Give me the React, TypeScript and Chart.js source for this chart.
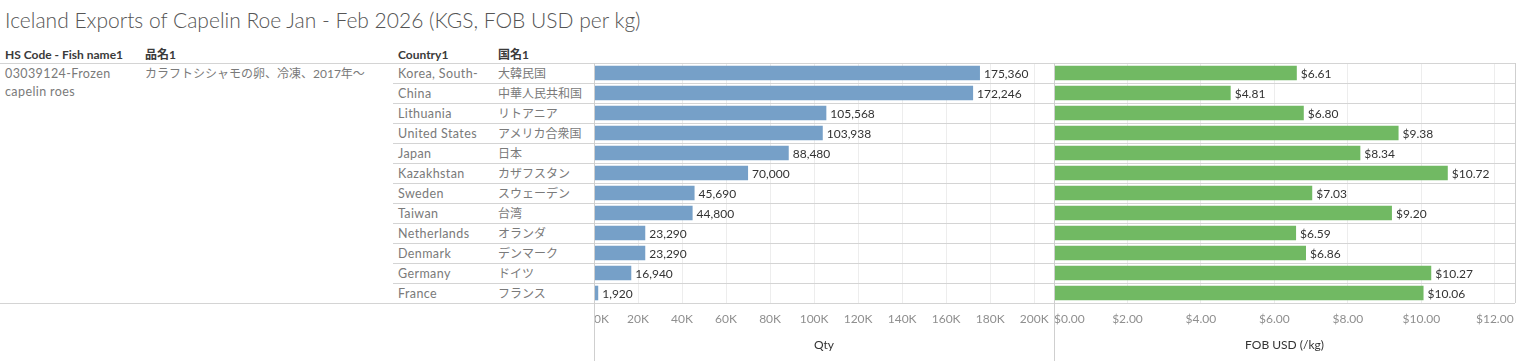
import React, { useEffect, useRef } from 'react';
import { Chart, registerables } from 'chart.js';

Chart.register(...registerables);

const TITLE = 'Iceland Exports of Capelin Roe Jan - Feb 2026 (KGS, FOB USD per kg)';
const HEADERS = ['HS Code - Fish name1', '品名1', 'Country1', '国名1'];
const HS_CODE = '03039124-Frozen capelin roes';
const PRODUCT_JA = 'カラフトシシャモの卵、冷凍、2017年〜';

const COUNTRIES = [
  'Korea, South-', 'China', 'Lithuania', 'United States', 'Japan', 'Kazakhstan',
  'Sweden', 'Taiwan', 'Netherlands', 'Denmark', 'Germany', 'France',
];
const COUNTRIES_JA = [
  '大韓民国', '中華人民共和国', 'リトアニア', 'アメリカ合衆国', '日本', 'カザフスタン',
  'スウェーデン', '台湾', 'オランダ', 'デンマーク', 'ドイツ', 'フランス',
];
const QTY = [175360, 172246, 105568, 103938, 88480, 70000, 45690, 44800, 23290, 23290, 16940, 1920];
const FOB = [6.61, 4.81, 6.8, 9.38, 8.34, 10.72, 7.03, 9.2, 6.59, 6.86, 10.27, 10.06];

const QTY_TICKS = [0, 20000, 40000, 60000, 80000, 100000, 120000, 140000, 160000, 180000, 200000];
const QTY_MAX = 209000;
const FOB_TICKS = [0, 2, 4, 6, 8, 10, 12];
const FOB_MAX = 12.55;

const BLUE = '#76a0c8';
const GREEN = '#71b963';
const FONT = 'Lato, "Noto Sans CJK JP", sans-serif';
const ROW_LINE = '#d4d4d4';
const GRID = '#ededed';

const valueLabels = (fmt: (v: number) => string) => ({
  id: 'valueLabels',
  afterDatasetsDraw(chart: any) {
    const ctx = chart.ctx;
    const meta = chart.getDatasetMeta(0);
    const data = chart.data.datasets[0].data as number[];
    ctx.save();
    ctx.font = `12px ${FONT}`;
    ctx.fillStyle = '#333333';
    ctx.textBaseline = 'middle';
    ctx.textAlign = 'left';
    meta.data.forEach((bar: any, i: number) => {
      ctx.fillText(fmt(data[i]), bar.x + 4, bar.y + 1);
    });
    ctx.restore();
  },
});

const paneEdge = {
  id: 'paneEdge',
  afterDraw(chart: any) {
    const { ctx, chartArea } = chart;
    const x = Math.round(chartArea.left) + 0.5;
    ctx.save();
    ctx.strokeStyle = '#cfcfcf';
    ctx.lineWidth = 1;
    ctx.beginPath();
    ctx.moveTo(x, chartArea.top);
    ctx.lineTo(x, chart.height);
    ctx.stroke();
    ctx.restore();
  },
};

function makeConfig(opts: {
  values: number[];
  color: string;
  ticks: number[];
  max: number;
  tickFmt: (v: number) => string;
  labelFmt: (v: number) => string;
  title: string;
  axisWidth: number;
  padRight: number;
  edgeColor: string;
}): any {
  return {
    type: 'bar',
    data: {
      labels: COUNTRIES,
      datasets: [
        {
          data: opts.values,
          backgroundColor: opts.color,
          barPercentage: 0.73,
          categoryPercentage: 1,
        },
      ],
    },
    options: {
      animation: false,
      responsive: false,
      maintainAspectRatio: false,
      indexAxis: 'y',
      layout: { padding: { top: 10, right: opts.padRight, left: 0, bottom: 0 } },
      plugins: { legend: { display: false }, tooltip: { enabled: false } },
      scales: {
        x: {
          type: 'linear',
          min: 0,
          max: opts.max,
          afterBuildTicks: (s: any) => {
            s.ticks = [...opts.ticks, opts.max].map((v) => ({ value: v }));
          },
          afterFit: (s: any) => {
            s.height = 58;
          },
          ticks: {
            autoSkip: false,
            maxRotation: 0,
            minRotation: 0,
            align: 'inner',
            padding: 0,
            color: '#8f8f8f',
            font: { family: FONT, size: 12 },
            callback: (v: number) => (opts.ticks.includes(v) ? opts.tickFmt(v) : ''),
          },
          grid: {
            drawTicks: true,
            tickLength: 9,
            tickColor: 'rgba(0,0,0,0)',
            color: (c: any) => (c.tick && c.tick.value === opts.max ? opts.edgeColor : GRID),
          },
          border: { display: false },
          title: {
            display: true,
            text: opts.title,
            color: '#333333',
            font: { family: FONT, size: 12 },
            padding: { top: 0, bottom: 9 },
          },
        },
        y: {
          type: 'category',
          offset: true,
          afterFit: (s: any) => {
            s.width = opts.axisWidth;
          },
          ticks: { display: false, padding: 0 },
          grid: {
            offset: true,
            drawTicks: opts.axisWidth > 0,
            tickLength: opts.axisWidth,
            color: ROW_LINE,
          },
          border: { display: false },
        },
      },
    },
    plugins: [valueLabels(opts.labelFmt), paneEdge],
  };
}

function ChartCanvas({ config, left, top, width, height }: any) {
  const ref = useRef<HTMLCanvasElement | null>(null);
  useEffect(() => {
    if (!ref.current) return;
    const chart = new Chart(ref.current, config);
    return () => chart.destroy();
  }, []);
  return (
    <canvas
      ref={ref}
      width={width}
      height={height}
      style={{ position: 'absolute', left, top, width, height }}
    />
  );
}

const ROW_H = 20;
const ROW0 = 63;

export default function App() {
  const qtyConfig = makeConfig({
    values: QTY,
    color: BLUE,
    ticks: QTY_TICKS,
    max: QTY_MAX,
    tickFmt: (v) => `${v / 1000}K`,
    labelFmt: (v) => v.toLocaleString('en-US'),
    title: 'Qty',
    axisWidth: 201,
    padRight: 0,
    edgeColor: 'rgba(0,0,0,0)',
  });
  const fobConfig = makeConfig({
    values: FOB,
    color: GREEN,
    ticks: FOB_TICKS,
    max: FOB_MAX,
    tickFmt: (v) => `$${v.toFixed(2)}`,
    labelFmt: (v) => `$${v.toFixed(2)}`,
    title: 'FOB USD (/kg)',
    axisWidth: 0,
    padRight: 2,
    edgeColor: '#cfcfcf',
  });

  const textBase: React.CSSProperties = {
    position: 'absolute',
    fontFamily: FONT,
    fontSize: 12.5,
    letterSpacing: '0.4px',
    whiteSpace: 'nowrap',
    lineHeight: `${ROW_H}px`,
  };
  const jaBase: React.CSSProperties = {
    ...textBase,
    fontSize: 12,
    letterSpacing: '0px',
  };

  return (
    <div
      style={{
        position: 'fixed',
        left: 0,
        top: 0,
        width: 1517,
        height: 361,
        background: '#ffffff',
        overflow: 'hidden',
      }}
    >
      <div
        style={{
          position: 'absolute',
          left: 5,
          top: 4,
          fontFamily: FONT,
          fontWeight: 300,
          fontSize: 21,
          lineHeight: '32px',
          color: '#555555',
          whiteSpace: 'nowrap',
        }}
      >
        {TITLE}
      </div>

      {HEADERS.map((h, i) => (
        <div
          key={h}
          style={{
            ...jaBase,
            left: [5, 145, 398, 498][i],
            top: 45,
            color: '#3a3a3a',
            fontWeight: 700,
          }}
        >
          {h}
        </div>
      ))}

      <div style={{ position: 'absolute', left: 0, top: ROW0, width: 393, height: 1, background: ROW_LINE }} />
      <div style={{ position: 'absolute', left: 0, top: ROW0 + ROW_H * 12, width: 393, height: 1, background: ROW_LINE }} />

      <div
        style={{
          position: 'absolute',
          left: 5,
          top: ROW0 + 2,
          width: 130,
          fontFamily: FONT,
          fontSize: 12.5,
          letterSpacing: '0.4px',
          lineHeight: '18px',
          color: '#7a7a7a',
        }}
      >
        {HS_CODE}
      </div>
      <div style={{ ...jaBase, left: 145, top: ROW0 + 1, color: '#7a7a7a' }}>{PRODUCT_JA}</div>

      {COUNTRIES.map((c, i) => (
        <React.Fragment key={c}>
          <div style={{ ...textBase, left: 398, top: ROW0 + 1 + i * ROW_H, color: '#7a7a7a' }}>{c}</div>
          <div style={{ ...jaBase, left: 498, top: ROW0 + 1 + i * ROW_H, color: '#7a7a7a' }}>{COUNTRIES_JA[i]}</div>
        </React.Fragment>
      ))}

      <ChartCanvas config={qtyConfig} left={393} top={53} width={661} height={308} />
      <ChartCanvas config={fobConfig} left={1054} top={53} width={463} height={308} />
    </div>
  );
}
